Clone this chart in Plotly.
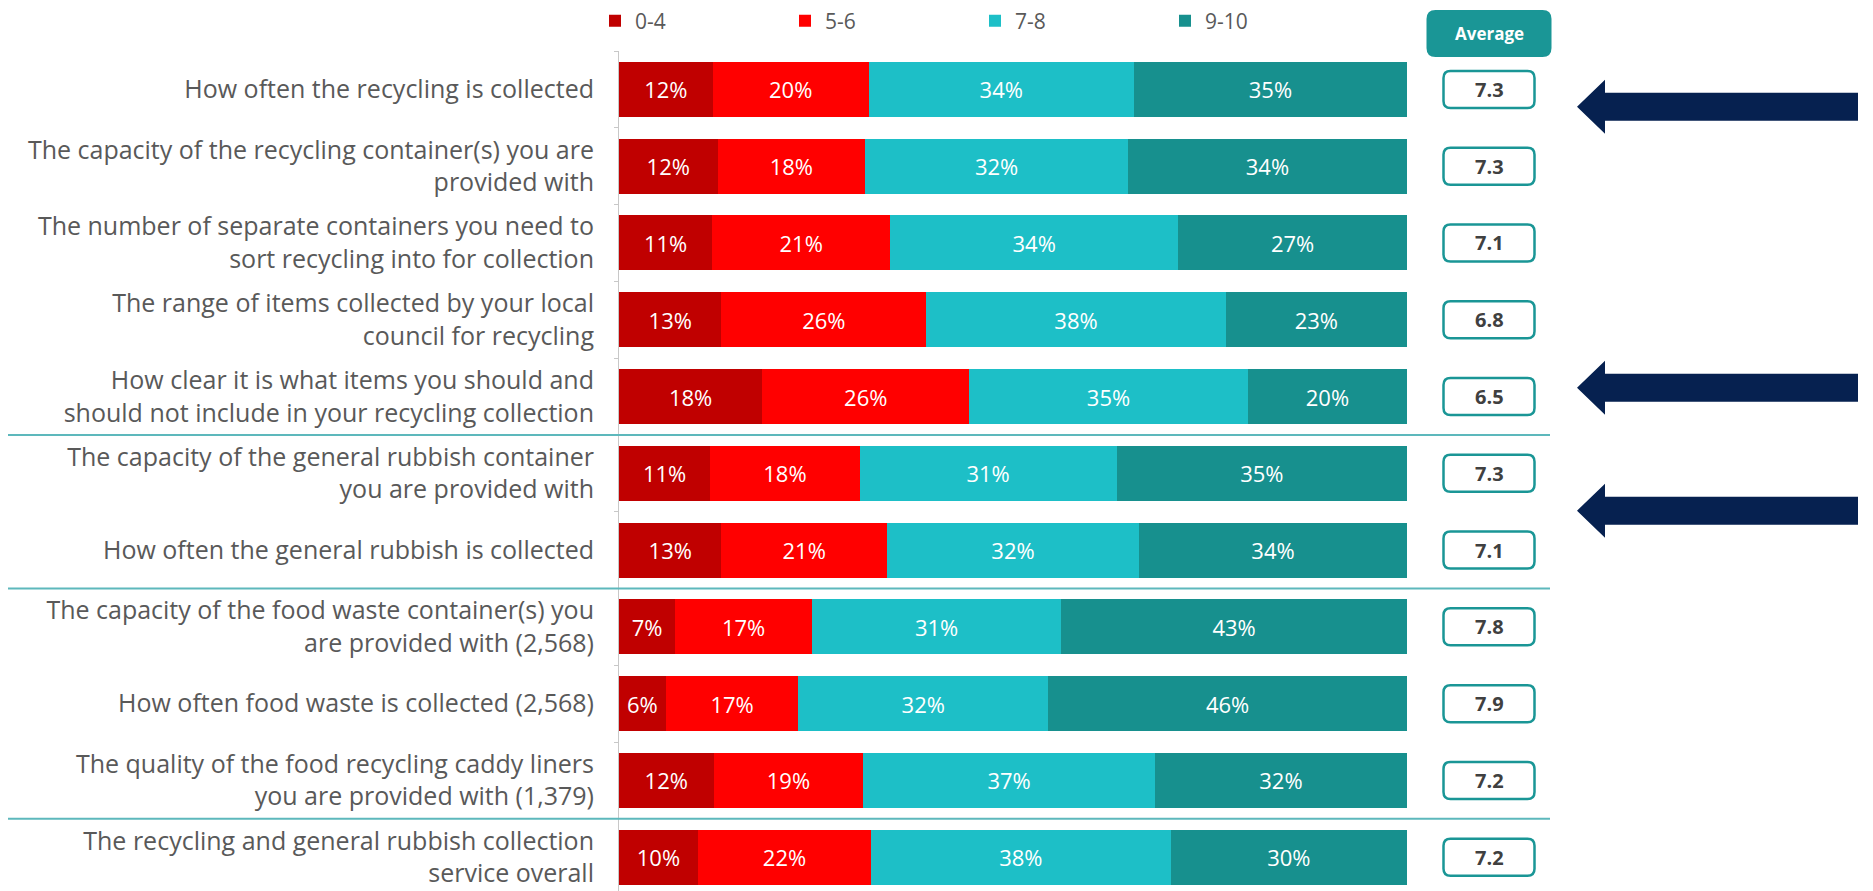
import plotly.graph_objects as go

categories = [
    "How often the recycling is collected",
    "The capacity of the recycling container(s) you are<br>provided with",
    "The number of separate containers you need to<br>sort recycling into for collection",
    "The range of items collected by your local<br>council for recycling",
    "How clear it is what items you should and<br>should not include in your recycling collection",
    "The capacity of the general rubbish container<br>you are provided with",
    "How often the general rubbish is collected",
    "The capacity of the food waste container(s) you<br>are provided with (2,568)",
    "How often food waste is collected (2,568)",
    "The quality of the food recycling caddy liners<br>you are provided with (1,379)",
    "The recycling and general rubbish collection<br>service overall",
]
series_names = ["0-4", "5-6", "7-8", "9-10"]
s_0_4 = [12, 12, 11, 13, 18, 11, 13, 7, 6, 12, 10]
s_5_6 = [20, 18, 21, 26, 26, 18, 21, 17, 17, 19, 22]
s_7_8 = [34, 32, 34, 38, 35, 31, 32, 31, 32, 37, 38]
s_9_10 = [35, 34, 27, 23, 20, 35, 34, 43, 46, 32, 30]
averages = [7.3, 7.3, 7.1, 6.8, 6.5, 7.3, 7.1, 7.8, 7.9, 7.2, 7.2]
group_breaks = [4.5, 6.5, 9.5]
arrow_rows = [0.227, 3.885, 5.487]

colors = ["#C00000", "#FF0000", "#1DBFC7", "#17908E"]
W, H = 1873, 891
OFF = 8  # page body margin
L, R, T, B = 619 - OFF, 1407 - OFF, 51 - OFF, 891 - OFF  # plot area in figure pixels

def px_x(p):
    return (p - OFF - L) / (R - L)

def px_y(p):
    return (B - (p - OFF)) / (B - T)

fig = go.Figure()
for name, vals, col in zip(series_names, [s_0_4, s_5_6, s_7_8, s_9_10], colors):
    fig.add_trace(go.Bar(
        y=categories, x=vals, name=name, orientation="h",
        marker=dict(color=col, line=dict(width=0)),
        text=[f"{v}%" for v in vals], textposition="inside",
        insidetextanchor="middle", textangle=0,
        textfont=dict(color="#FFFFFF", size=22, family="Open Sans"),
        hoverinfo="skip",
    ))

def rrect(w, h, r):
    x0, x1, y0, y1 = -w / 2, w / 2, -h / 2, h / 2
    return (f"M {x0+r},{y0} L {x1-r},{y0} Q {x1},{y0} {x1},{y0+r} L {x1},{y1-r} "
            f"Q {x1},{y1} {x1-r},{y1} L {x0+r},{y1} Q {x0},{y1} {x0},{y1-r} "
            f"L {x0},{y0+r} Q {x0},{y0} {x0+r},{y0} Z")

shapes = []
annotations = []
teal = "#1A9696"
avg_x = px_x(1489)
# header
shapes.append(dict(type="path", xref="paper", yref="paper", xsizemode="pixel", ysizemode="pixel",
                   xanchor=avg_x, yanchor=px_y(33.5), path=rrect(125, 47, 9),
                   fillcolor=teal, line=dict(width=0)))
annotations.append(dict(x=avg_x, y=px_y(33.5), xref="paper", yref="paper", text="<b>Average</b>",
                        xanchor="center", yanchor="middle", showarrow=False,
                        font=dict(color="white", size=17, family="Open Sans")))
for i, a in enumerate(averages):
    shapes.append(dict(type="path", xref="paper", yref="y", xsizemode="pixel", ysizemode="pixel",
                       xanchor=avg_x, yanchor=i, path=rrect(91, 37, 7),
                       fillcolor="white", line=dict(color=teal, width=2.5)))
    annotations.append(dict(x=avg_x, y=categories[i], xref="paper", yref="y", text=f"<b>{a}</b>",
                            xanchor="center", yanchor="middle", showarrow=False,
                            font=dict(color="#404040", size=20, family="Open Sans")))
for g in group_breaks:
    shapes.append(dict(type="line", xref="paper", yref="y", x0=px_x(OFF), x1=px_x(1550), y0=g, y1=g,
                       line=dict(color="#5DB8BC", width=2)))
arrow_path = "M 0,0 L 28,27 L 28,14 L 281,14 L 281,-14 L 28,-14 L 28,-27 Z"
for r in arrow_rows:
    shapes.append(dict(type="path", xref="paper", yref="y", xsizemode="pixel", ysizemode="pixel",
                       xanchor=px_x(1577), yanchor=r, path=arrow_path,
                       fillcolor="#062150", line=dict(width=0)))

fig.update_layout(
    width=W, height=H,
    barmode="stack", barnorm="percent", bargap=0.284,
    margin=dict(l=L, r=W - R, t=T, b=H - B, autoexpand=False),
    plot_bgcolor="white", paper_bgcolor="white",
    font=dict(family="Open Sans", color="#595959"),
    uniformtext=dict(mode="show", minsize=22),
    showlegend=True,
    legend=dict(orientation="h", x=px_x(595), xanchor="left", y=px_y(21), yanchor="middle",
                font=dict(size=21, color="#595959"), itemwidth=30,
                entrywidth=145, entrywidthmode="pixels", traceorder="normal",
                bgcolor="rgba(0,0,0,0)"),
    xaxis=dict(visible=False, range=[0, 100], fixedrange=True),
    yaxis=dict(range=[10.44, -0.5], autorange=False, showline=True, linecolor="#C8C8C8", linewidth=1,
               ticks="outside", ticklen=4, tickcolor="#C8C8C8", tickson="boundaries",
               showgrid=False, automargin=False, ticklabelstandoff=19,
               tickfont=dict(size=25, color="#595959", family="Open Sans")),
    shapes=shapes, annotations=annotations,
)
fig.write_html("out.html")
